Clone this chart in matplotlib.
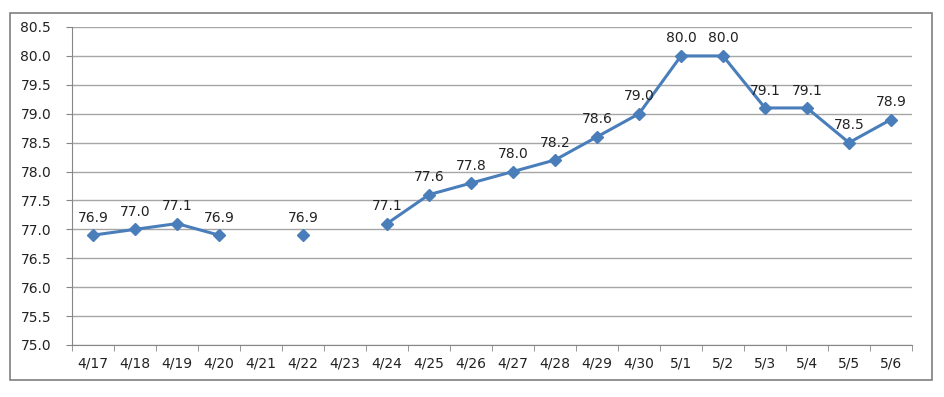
import numpy as np
from matplotlib import pyplot as plt
from matplotlib.patches import Rectangle

dates = ['4/17', '4/18', '4/19', '4/20', '4/21', '4/22', '4/23', '4/24', '4/25', '4/26',
         '4/27', '4/28', '4/29', '4/30', '5/1', '5/2', '5/3', '5/4', '5/5', '5/6']
values = [76.9, 77.0, 77.1, 76.9, np.nan, 76.9, np.nan, 77.1, 77.6, 77.8,
          78.0, 78.2, 78.6, 79.0, 80.0, 80.0, 79.1, 79.1, 78.5, 78.9]

fig = plt.figure(figsize=(9.45, 3.97), dpi=100)
ax = fig.add_axes([72 / 945, 1 - 345 / 397, 840 / 945, 318 / 397])

# frame round the whole chart
fig.patches.append(Rectangle((10 / 945, 1 - 380 / 397), 922 / 945, 367 / 397,
                             transform=fig.transFigure, fill=False,
                             edgecolor='#7f7f7f', linewidth=1.2))

x = np.arange(len(dates))
ax.plot(x, values, color='#4a7ebb', linewidth=2.2, marker='D', markersize=6.5,
        markerfacecolor='#4a7ebb', markeredgecolor='#4a7ebb', zorder=3)

for xi, v in zip(x, values):
    if np.isnan(v):
        continue
    ax.annotate(f'{v:.1f}', (xi, v), xytext=(0, 7.5), textcoords='offset points',
                ha='center', va='bottom', fontsize=10, color='#222222')

ax.set_xlim(-0.5, len(dates) - 0.5)
ax.set_ylim(75.0, 80.5)
ax.set_yticks(np.arange(75.0, 80.51, 0.5))
ax.set_yticklabels([f'{t:.1f}' for t in np.arange(75.0, 80.51, 0.5)])
ax.set_xticks(x)
ax.set_xticklabels(dates)
ax.set_xticks(np.arange(-0.5, len(dates)), minor=True)

ax.tick_params(axis='x', which='major', length=0, pad=8, labelsize=10, labelcolor='#222222')
ax.tick_params(axis='x', which='minor', length=4, color='#868686')
ax.tick_params(axis='y', length=4, color='#868686', pad=11, labelsize=10, labelcolor='#222222')

ax.grid(axis='y', color='#a6a6a6', linewidth=1)
ax.set_axisbelow(True)
for side in ['top', 'right']:
    ax.spines[side].set_visible(False)
for side in ['left', 'bottom']:
    ax.spines[side].set_color('#868686')

plt.savefig('out.png', dpi=100)
